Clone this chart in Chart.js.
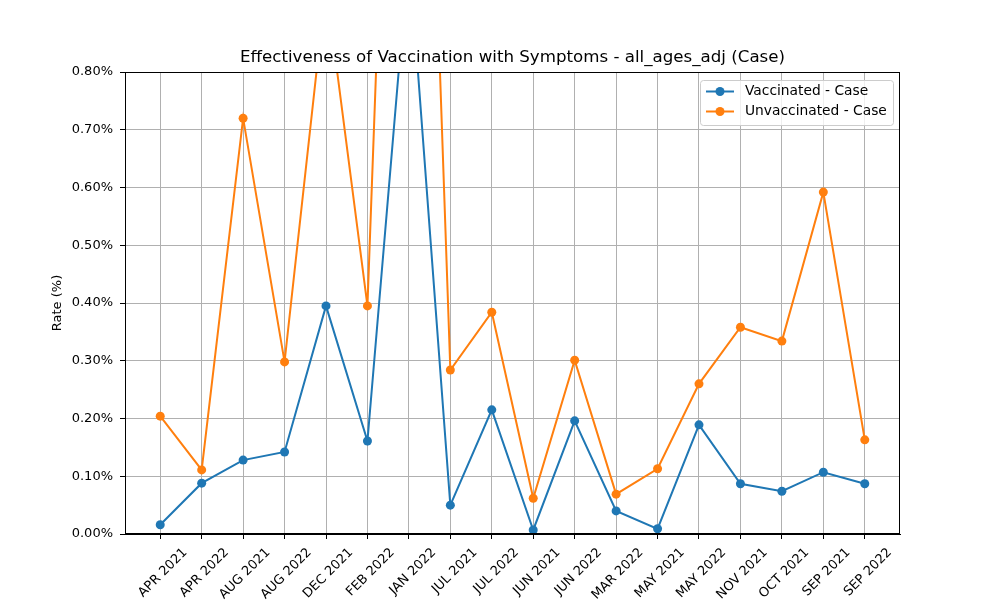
<!DOCTYPE html>
<html>
<head>
<meta charset="utf-8">
<script src="https://cdn.jsdelivr.net/npm/chart.js@4/dist/chart.umd.min.js"></script>
<style>
  html, body { margin: 0; padding: 0; background: #fff; }
  #wrap { width: 1000px; height: 600px; }
</style>
</head>
<body>
<div id="wrap"><canvas id="chart" width="1000" height="600"></canvas></div>
<script>
// categories (alphabetical, as in the source plot)
const months = ["APR 2021", "APR 2022", "AUG 2021", "AUG 2022", "DEC 2021", "FEB 2022",
    "JAN 2022", "JUL 2021", "JUL 2022", "JUN 2021", "JUN 2022", "MAR 2022",
    "MAY 2021", "MAY 2022", "NOV 2021", "OCT 2021", "SEP 2021", "SEP 2022"];

// rates in percent
const vaccinated = [0.016, 0.088, 0.128, 0.142, 0.395, 0.161,
    1.01, 0.050, 0.215, 0.007, 0.196, 0.040,
    0.009, 0.189, 0.087, 0.074, 0.107, 0.087];
const unvaccinated = [0.204, 0.111, 0.720, 0.298, 0.950, 0.395,
    2.35, 0.284, 0.384, 0.062, 0.301, 0.069,
    0.113, 0.260, 0.358, 0.334, 0.592, 0.163];

const yTicks = [0, 0.1, 0.2, 0.3, 0.4, 0.5, 0.6, 0.7, 0.8];

const titleText = 'Effectiveness of Vaccination with Symptoms - all_ages_adj (Case)';
const blue = '#1f77b4';
const orange = '#ff7f0e';
const font = "'DejaVu Sans', sans-serif";

// turn a list into {x, y} points on the numeric x axis
const toPoints = arr => arr.map((v, i) => ({ x: i, y: v }));

// black frame round the plot area, like matplotlib spines
const framePlugin = {
    id: 'frame',
    afterDatasetsDraw(chart) {
        const { ctx, chartArea: a } = chart;
        ctx.save();
        ctx.strokeStyle = '#000';
        ctx.lineWidth = 1;
        ctx.strokeRect(a.left + 0.5, a.top + 0.5, a.right - a.left - 1, a.bottom - a.top - 1);
        ctx.restore();
    }
};

// title centred over the plot area rather than the whole canvas
const titlePlugin = {
    id: 'axesTitle',
    afterDraw(chart) {
        const { ctx, chartArea: a } = chart;
        ctx.save();
        ctx.font = '16.67px ' + font;
        ctx.fillStyle = '#000';
        ctx.textAlign = 'center';
        ctx.textBaseline = 'middle';
        ctx.fillText(titleText, (a.left + a.right) / 2, a.top - 14);
        ctx.restore();
    }
};

// legend box in the upper right of the plot area
const legendPlugin = {
    id: 'boxLegend',
    afterDraw(chart) {
        const { ctx, chartArea: a } = chart;
        const w = 193, h = 45;
        const x = a.right - 7 - w, y = a.top + 8;
        ctx.save();
        ctx.fillStyle = 'rgba(255,255,255,0.8)';
        ctx.strokeStyle = '#cccccc';
        ctx.lineWidth = 1;
        ctx.beginPath();
        ctx.roundRect(x + 0.5, y + 0.5, w, h, 3);
        ctx.fill();
        ctx.stroke();
        const rows = [
            { label: 'Vaccinated - Case', color: blue },
            { label: 'Unvaccinated - Case', color: orange }
        ];
        ctx.font = '13.8px ' + font;
        ctx.textBaseline = 'middle';
        rows.forEach((r, i) => {
            const cy = y + 11.5 + i * 20;
            ctx.strokeStyle = r.color;
            ctx.lineWidth = 2;
            ctx.beginPath();
            ctx.moveTo(x + 6, cy);
            ctx.lineTo(x + 34, cy);
            ctx.stroke();
            ctx.fillStyle = r.color;
            ctx.beginPath();
            ctx.arc(x + 20, cy, 4.5, 0, Math.PI * 2);
            ctx.fill();
            ctx.fillStyle = '#000';
            ctx.fillText(r.label, x + 45, cy);
        });
        ctx.restore();
    }
};

const chart = new Chart(document.getElementById('chart'), {
    type: 'line',
    data: {
        datasets: [{
            label: 'Vaccinated - Case',
            data: toPoints(vaccinated),
            borderColor: blue,
            backgroundColor: blue,
            borderWidth: 2,
            pointRadius: 4.5,
            pointHoverRadius: 4.5,
            pointBorderWidth: 0,
            tension: 0
        }, {
            label: 'Unvaccinated - Case',
            data: toPoints(unvaccinated),
            borderColor: orange,
            backgroundColor: orange,
            borderWidth: 2,
            pointRadius: 4.5,
            pointHoverRadius: 4.5,
            pointBorderWidth: 0,
            tension: 0
        }]
    },
    options: {
        responsive: false,
        animation: false,
        layout: { padding: { left: 0, right: 100, top: 72, bottom: 0 } },
        plugins: {
            legend: { display: false },
            tooltip: { enabled: false },
            title: { display: false }
        },
        scales: {
            x: {
                type: 'linear',
                min: -0.85,
                max: 17.85,
                afterBuildTicks: scale => {
                    scale.ticks = months.map((m, i) => ({ value: i }));
                },
                afterFit: scale => { scale.height = 66; },
                ticks: {
                    autoSkip: false,
                    maxRotation: 45,
                    minRotation: 45,
                    padding: 6,
                    labelOffset: 25,
                    color: '#000',
                    font: { family: font, size: 13 },
                    callback: v => months[v]
                },
                grid: {
                    color: '#b0b0b0',
                    lineWidth: 1,
                    tickLength: 5,
                    tickColor: '#000'
                },
                border: { color: '#000', width: 1 }
            },
            y: {
                min: 0,
                max: 0.8,
                afterBuildTicks: scale => {
                    scale.ticks = yTicks.map(v => ({ value: v }));
                },
                afterFit: scale => { scale.width = 125; },
                ticks: {
                    padding: 7,
                    color: '#000',
                    font: { family: font, size: 13 },
                    callback: v => v.toFixed(2) + '%'
                },
                grid: {
                    color: '#b0b0b0',
                    lineWidth: 1,
                    tickLength: 5,
                    tickColor: '#000'
                },
                border: { color: '#000', width: 1 },
                title: {
                    display: true,
                    text: 'Rate (%)',
                    color: '#000',
                    font: { family: font, size: 13 },
                    padding: { top: 50, bottom: 0 }
                }
            }
        }
    },
    plugins: [framePlugin, titlePlugin, legendPlugin]
});
</script>
</body>
</html>
